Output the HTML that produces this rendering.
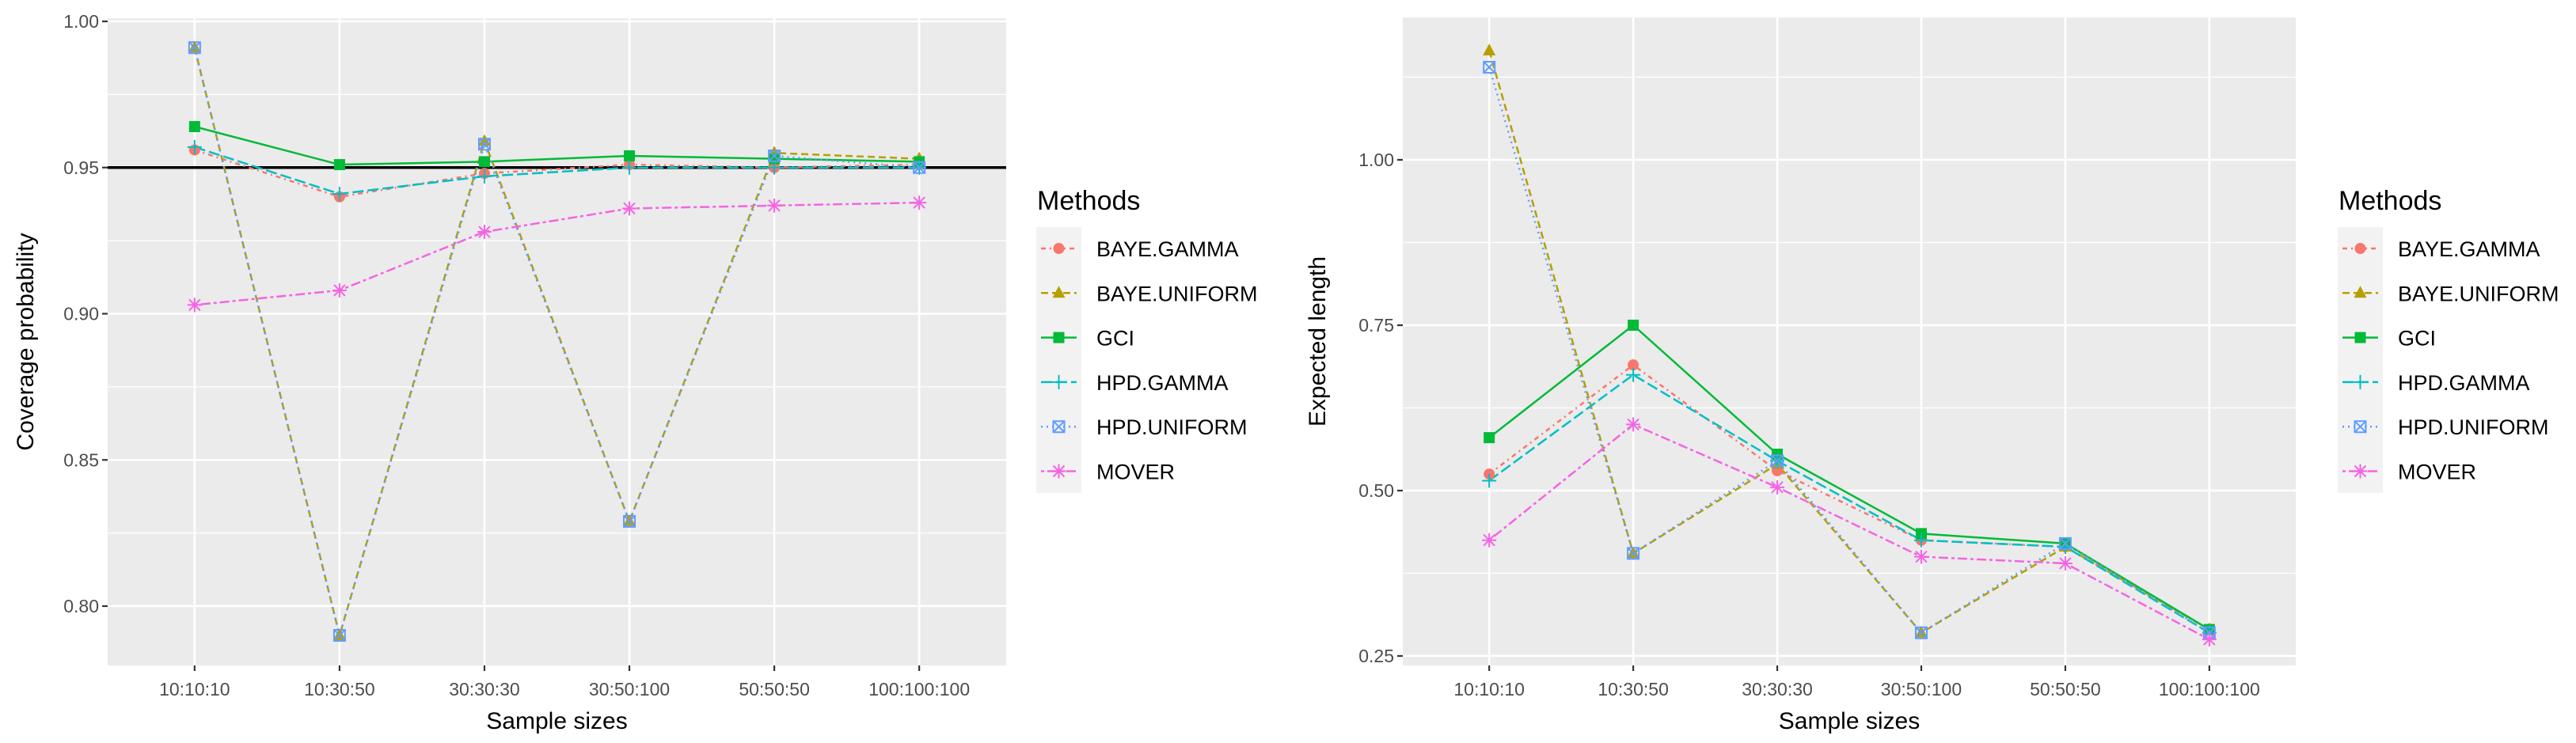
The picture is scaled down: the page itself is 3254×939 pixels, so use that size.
<!DOCTYPE html>
<html><head><meta charset="utf-8"><style>
html,body{margin:0;padding:0;background:#fff;}
svg{display:block;font-family:"Liberation Sans",sans-serif;}
</style></head><body>
<svg id="s" width="3254" height="939" viewBox="0 0 3254 939" xmlns="http://www.w3.org/2000/svg"></svg>
<script>
const categories=["10:10:10","10:30:50","30:30:30","30:50:100","50:50:50","100:100:100"];
const methods=["BAYE.GAMMA","BAYE.UNIFORM","GCI","HPD.GAMMA","HPD.UNIFORM","MOVER"];
const covBayeGamma=[0.956,0.940,0.948,0.951,0.950,0.951];
const covBayeUniform=[0.991,0.790,0.959,0.829,0.955,0.953];
const covGCI=[0.964,0.951,0.952,0.954,0.953,0.952];
const covHpdGamma=[0.957,0.941,0.947,0.950,0.950,0.950];
const covHpdUniform=[0.991,0.790,0.958,0.829,0.954,0.950];
const covMover=[0.903,0.908,0.928,0.936,0.937,0.938];
const lenBayeGamma=[0.525,0.69,0.53,0.425,0.415,0.29];
const lenBayeUniform=[1.165,0.405,0.54,0.285,0.415,0.29];
const lenGCI=[0.58,0.75,0.555,0.435,0.42,0.29];
const lenHpdGamma=[0.515,0.675,0.545,0.425,0.415,0.285];
const lenHpdUniform=[1.14,0.405,0.545,0.285,0.42,0.285];
const lenMover=[0.425,0.6,0.505,0.40,0.39,0.275];
const covTicks=[0.80,0.85,0.90,0.95,1.00];
const covTickLabels=["0.80","0.85","0.90","0.95","1.00"];
const lenTicks=[0.25,0.50,0.75,1.00];
const lenTickLabels=["0.25","0.50","0.75","1.00"];
const refLine=0.95;

const colors=["#F8766D","#B79F00","#00BA38","#00BFC4","#619CFF","#F564E3"];
const dashes=["6,5,2,5","9,5","","14,5","2,5","4,4,12,4"];
const shapes=["circle","triangle","square","plus","boxx","star"];
const NS="http://www.w3.org/2000/svg";
const svg=document.getElementById("s");
function mk(tag,attrs,parent){const e=document.createElementNS(NS,tag);for(const k in attrs)e.setAttribute(k,attrs[k]);(parent||svg).appendChild(e);return e;}

function marker(g,shape,x,y,c){
  let e;
  if(shape==="circle"){e=mk("circle",{cx:x,cy:y,r:7,fill:c},g);}
  else if(shape==="triangle"){e=mk("polygon",{points:`${x},${y-9} ${x-8},${y+6} ${x+8},${y+6}`,fill:c},g);}
  else if(shape==="square"){e=mk("rect",{x:x-7,y:y-7,width:14,height:14,fill:c},g);}
  else if(shape==="plus"){e=mk("path",{d:`M${x-9},${y}H${x+9}M${x},${y-9}V${y+9}`,stroke:c,"stroke-width":2,fill:"none"},g);}
  else if(shape==="boxx"){e=mk("path",{d:`M${x-7},${y-7}h14v14h-14zM${x-7},${y-7}L${x+7},${y+7}M${x+7},${y-7}L${x-7},${y+7}`,stroke:c,"stroke-width":2,fill:"none"},g);}
  else {e=mk("path",{d:`M${x-9},${y}H${x+9}M${x},${y-9}V${y+9}M${x-7},${y-7}L${x+7},${y+7}M${x+7},${y-7}L${x-7},${y+7}`,stroke:c,"stroke-width":2,fill:"none"},g);}
  return e;
}

function panel(cfg){
  const g=mk("g",{});
  
  
  const {L,R,T,B}=cfg;
  const n=categories.length;
  const step=(R-L)/(n-1+1.2);
  const xs=i=>L+step*(0.6+i);
  const ys=v=>cfg.y0px+(v-cfg.y0)*(cfg.y1px-cfg.y0px)/(cfg.y1-cfg.y0);
  const bg=mk("rect",{x:L,y:T,width:R-L,height:B-T,fill:"#EBEBEB"},g);
  
  
  // minor grid
  for(let i=0;i<cfg.ticks.length+1;i++){
    const a=cfg.ticks[0]+(i-0.5)*(cfg.ticks[1]-cfg.ticks[0]);
    const y=ys(a); if(y<T||y>B)continue;
    mk("line",{x1:L,x2:R,y1:y,y2:y,stroke:"#fff","stroke-width":1.3},g);
  }
  cfg.ticks.forEach((t,i)=>{
    const y=ys(t);
    const gl=mk("line",{x1:L,x2:R,y1:y,y2:y,stroke:"#fff","stroke-width":2.6},g);
    
    
    mk("line",{x1:L-7,x2:L,y1:y,y2:y,stroke:"#333","stroke-width":2.2},g);
    const tx=mk("text",{x:L-11,y:y+8,"text-anchor":"end","font-size":23,fill:"#4D4D4D"},g);
    tx.textContent=cfg.tickLabels[i];
    
    
  });
  categories.forEach((c,i)=>{
    const x=xs(i);
    const gl=mk("line",{x1:x,x2:x,y1:T,y2:B,stroke:"#fff","stroke-width":2.6},g);
    
    
    mk("line",{x1:x,x2:x,y1:B,y2:B+7,stroke:"#333","stroke-width":2.2},g);
    const tx=mk("text",{x:x,y:B+38,"text-anchor":"middle","font-size":23,fill:"#4D4D4D"},g);
    tx.textContent=c;
    
    
  });
  if(cfg.ref!==undefined){
    const r=mk("line",{x1:L,x2:R,y1:ys(cfg.ref),y2:ys(cfg.ref),stroke:"#000","stroke-width":3.5},g);
    
    
  }
  cfg.series.forEach((vals,si)=>{
    const pts=vals.map((v,i)=>xs(i)+","+ys(v)).join(" ");
    const pl=mk("polyline",{points:pts,fill:"none",stroke:colors[si],"stroke-width":2.5,"stroke-dasharray":dashes[si]},g);
    
    
  });
  cfg.series.forEach((vals,si)=>{
    vals.forEach((v,i)=>{
      const m=marker(g,shapes[si],xs(i),ys(v),colors[si]);
      
      
    });
  });
  const xt=mk("text",{x:(L+R)/2,y:921,"text-anchor":"middle","font-size":30,fill:"#000"},g);
  xt.textContent="Sample sizes";
  
  
  const yt=mk("text",{x:0,y:0,"text-anchor":"middle","font-size":30,fill:"#000",transform:`translate(${cfg.ytx},${(T+B)/2}) rotate(-90)`},g);
  yt.textContent=cfg.ytitle;
  
  
  // legend
  const lg=mk("g",{},g);
  
  
  const lx=cfg.lx;
  const lt=mk("text",{x:lx+1,y:265,"font-size":34,fill:"#000"},lg);
  lt.textContent="Methods";
  
  
  mk("rect",{x:lx,y:287,width:57,height:336,fill:"#F2F2F2"},lg);
  methods.forEach((m,si)=>{
    const y=314+si*56.3;
    const e=mk("g",{},lg);
    
    
    mk("line",{x1:lx+6,x2:lx+51,y1:y,y2:y,stroke:colors[si],"stroke-width":2.5,"stroke-dasharray":dashes[si]},e);
    marker(e,shapes[si],lx+28.5,y,colors[si]);
    const t=mk("text",{x:lx+76,y:y+10,"font-size":27,fill:"#000"},e);
    t.textContent=m;
  });
}

panel({name:"coverage-panel",L:136,R:1271,T:23,B:841,y0:1.00,y0px:27,y1:0.80,y1px:766,
  ticks:covTicks,tickLabels:covTickLabels,ref:refLine,ytitle:"Coverage probability",ytx:42,lx:1309,
  series:[covBayeGamma,covBayeUniform,covGCI,covHpdGamma,covHpdUniform,covMover]});
panel({name:"length-panel",L:1772,R:2900,T:22,B:841,y0:1.00,y0px:202,y1:0.25,y1px:829,
  ticks:lenTicks,tickLabels:lenTickLabels,ytitle:"Expected length",ytx:1674,lx:2953,
  series:[lenBayeGamma,lenBayeUniform,lenGCI,lenHpdGamma,lenHpdUniform,lenMover]});
</script>
</body></html>
